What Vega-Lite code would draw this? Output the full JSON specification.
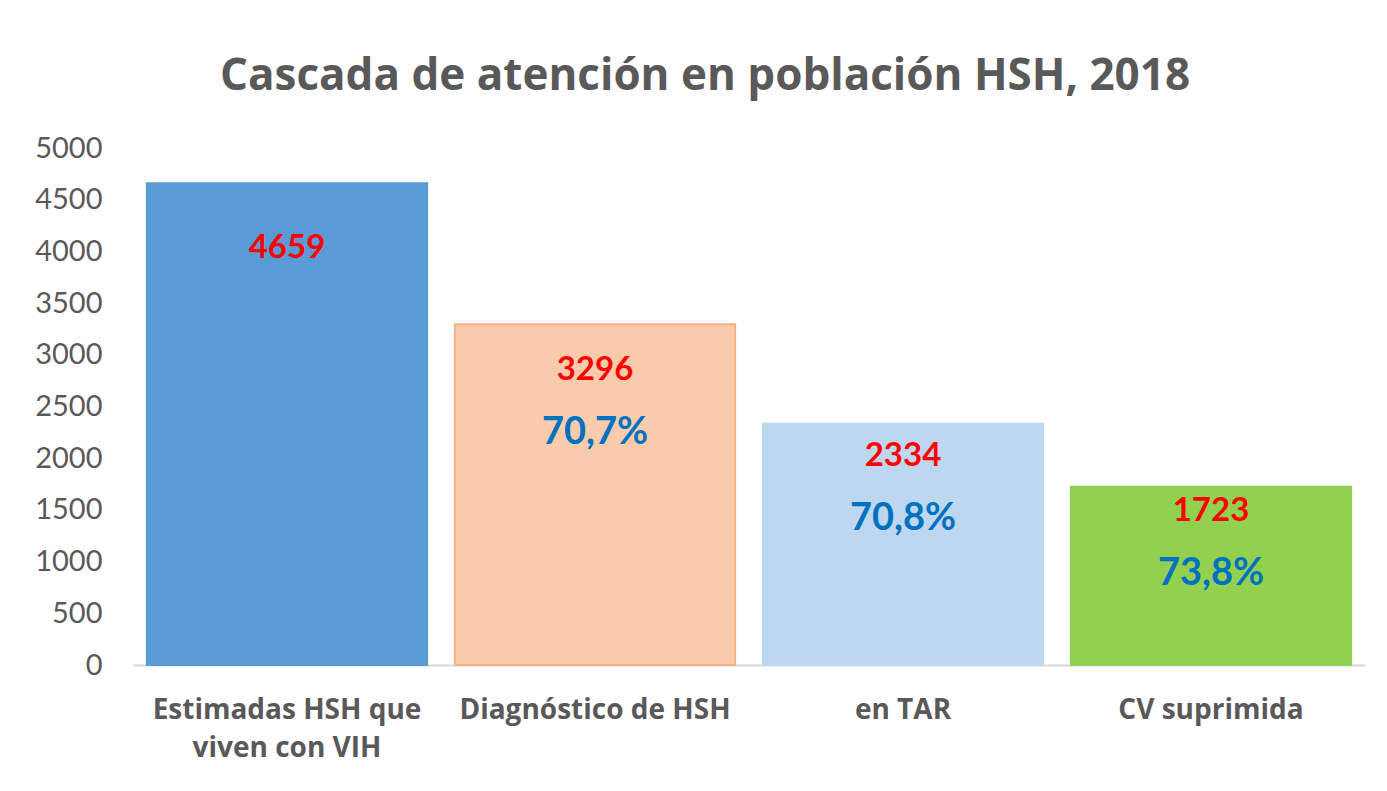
{
  "$schema": "https://vega.github.io/schema/vega-lite/v6.json",
  "autosize": "none",
  "width": 1232,
  "height": 517,
  "padding": {"left": 133, "top": 148, "right": 22, "bottom": 126},
  "background": "white",
  "config": {
    "view": {"stroke": null},
    "font": "Lato",
    "locale": {
      "number": {"decimal": ",", "thousands": ".", "grouping": [3], "currency": ["", " €"]}
    }
  },
  "title": {
    "text": "Cascada de atención en población HSH, 2018",
    "font": "Open Sans",
    "fontSize": 44,
    "fontWeight": "bold",
    "color": "#595959",
    "anchor": "middle",
    "frame": "group",
    "dx": -44,
    "baseline": "alphabetic",
    "offset": 0
  },
  "data": {
    "values": [
      {"etapa": "Estimadas HSH que viven con VIH", "n": 4659, "pct": null},
      {"etapa": "Diagnóstico de HSH", "n": 3296, "pct": 0.707},
      {"etapa": "en TAR", "n": 2334, "pct": 0.708},
      {"etapa": "CV suprimida", "n": 1723, "pct": 0.738}
    ]
  },
  "layer": [
    {
      "mark": {"type": "bar", "strokeWidth": 2},
      "encoding": {
        "x": {
          "field": "etapa",
          "type": "nominal",
          "sort": null,
          "scale": {"paddingInner": 0.09, "paddingOuter": 0.045},
          "axis": {
            "title": null,
            "labelAngle": 0,
            "ticks": false,
            "domainColor": "#d9d9d9",
            "domainWidth": 2,
            "labelFont": "Open Sans",
            "labelFontSize": 28,
            "labelFontWeight": "bold",
            "labelColor": "#595959",
            "labelPadding": 31,
            "labelBaseline": "top",
            "labelLimit": 500,
            "labelLineHeight": 38,
            "labelExpr": "datum.label == 'Estimadas HSH que viven con VIH' ? ['Estimadas HSH que', 'viven con VIH'] : datum.label"
          }
        },
        "y": {
          "field": "n",
          "type": "quantitative",
          "scale": {"domain": [0, 5000]},
          "axis": {
            "title": null,
            "values": [0, 500, 1000, 1500, 2000, 2500, 3000, 3500, 4000, 4500, 5000],
            "format": "d",
            "domain": false,
            "ticks": false,
            "grid": false,
            "labelFont": "Lato",
            "labelFontSize": 29,
            "labelColor": "#595959",
            "labelPadding": 31
          }
        },
        "color": {
          "field": "etapa",
          "type": "nominal",
          "scale": {
            "domain": ["Estimadas HSH que viven con VIH", "Diagnóstico de HSH", "en TAR", "CV suprimida"],
            "range": ["#5b9bd5", "#f8cbad", "#bdd7ee", "#92d050"]
          },
          "legend": null
        },
        "stroke": {
          "field": "etapa",
          "type": "nominal",
          "scale": {
            "domain": ["Estimadas HSH que viven con VIH", "Diagnóstico de HSH", "en TAR", "CV suprimida"],
            "range": ["#5b9bd5", "#f4b183", "#bdd7ee", "#92d050"]
          },
          "legend": null
        }
      }
    },
    {
      "mark": {"type": "text", "font": "Lato", "fontSize": 33, "fontWeight": "bold", "color": "#ff0000", "baseline": "middle"},
      "encoding": {
        "x": {"field": "etapa", "type": "nominal", "sort": null},
        "y": {"field": "n", "type": "quantitative", "scale": {"domain": [0, 5780]}, "axis": null},
        "text": {"field": "n", "type": "quantitative", "format": "d"}
      }
    },
    {
      "transform": [{"filter": "isValid(datum.pct)"}],
      "mark": {"type": "text", "font": "Lato", "fontSize": 38, "fontWeight": "bold", "color": "#0070c0", "baseline": "middle", "dy": 63},
      "encoding": {
        "x": {"field": "etapa", "type": "nominal", "sort": null},
        "y": {"field": "n", "type": "quantitative", "scale": {"domain": [0, 5780]}, "axis": null},
        "text": {"field": "pct", "type": "quantitative", "format": ".1%"}
      }
    }
  ],
  "resolve": {"scale": {"y": "independent"}}
}
